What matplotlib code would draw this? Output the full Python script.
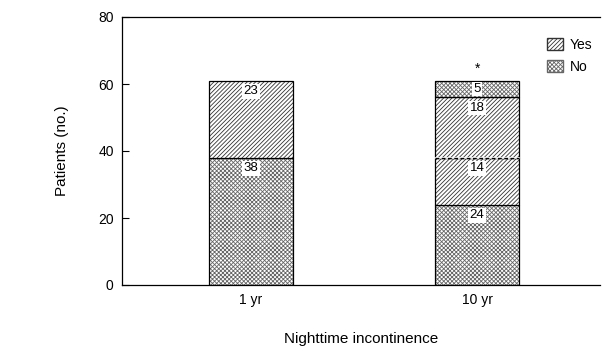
import matplotlib.pyplot as plt
from matplotlib.patches import Patch

plt.rcParams['font.family'] = ['Liberation Sans', 'DejaVu Sans']
plt.rcParams['hatch.linewidth'] = 0.6

groups = ['1 yr', '10 yr']
# stacked segments, bottom to top: (group index, value, category)
seg_group = [0, 0, 1, 1, 1, 1]
seg_value = [38, 23, 24, 14, 18, 5]
seg_cat = ['No', 'Yes', 'No', 'Yes', 'Yes', 'No']
hatches = {'Yes': '////////', 'No': 'xxxxxxxx'}
hcolors = {'Yes': '#333333', 'No': '#666666'}

fig = plt.figure(figsize=(6.04, 3.51), dpi=100)
ax = fig.add_axes([122/604, 1-285/351, (600-122)/604, (285-17)/351])

bottoms = [0, 0]
for g, v, c in zip(seg_group, seg_value, seg_cat):
    ax.bar(g, v, bottom=bottoms[g], width=0.37, color='white',
           edgecolor=hcolors[c], hatch=hatches[c], linewidth=0)
    ax.bar(g, v, bottom=bottoms[g], width=0.37, fill=False,
           edgecolor='black', linewidth=0.9)
    top = bottoms[g] + v
    ax.text(g, top - min(3.2, v / 2), str(v), ha='center', va='center', fontsize=9.5,
            bbox=dict(boxstyle='square,pad=0.1', fc='white', ec='none'))
    bottoms[g] = top

# dashed split between the two "Yes" parts of 10 yr bar
ax.plot([1 - 0.185, 1 + 0.185], [38, 38], color='white', lw=1.2)
ax.plot([1 - 0.185, 1 + 0.185], [38, 38], color='black', lw=0.9, ls=(0, (3, 2)))

ax.text(1, 64.5, '*', ha='center', va='center', fontsize=10)

# legend
handles = [Patch(facecolor='white', edgecolor=hcolors['Yes'], hatch=hatches['Yes'], label='Yes'),
           Patch(facecolor='white', edgecolor=hcolors['No'], hatch=hatches['No'], label='No')]
ax.legend(handles=handles, loc='upper right', bbox_to_anchor=(1.01, 0.97), frameon=False,
          fontsize=10, handlelength=1.1, handleheight=0.9, handletextpad=0.5, labelspacing=0.6)

ax.set_xlim(-0.571, 1.544)
ax.set_ylim(0, 80)
ax.set_yticks([0, 20, 40, 60, 80])
ax.set_xticks([0, 1])
ax.set_xticklabels(groups)
ax.tick_params(axis='y', direction='in', length=5, labelsize=10, width=0.8, pad=6)
ax.tick_params(axis='x', length=0, labelsize=10, pad=6)
ax.spines['right'].set_visible(False)
for s in ['left', 'top', 'bottom']:
    ax.spines[s].set_linewidth(0.9)
ax.set_ylabel('Patients (no.)', fontsize=11, labelpad=21)
ax.set_xlabel('Nighttime incontinence', fontsize=11, labelpad=18)

fig.savefig('out.png', dpi=100)
